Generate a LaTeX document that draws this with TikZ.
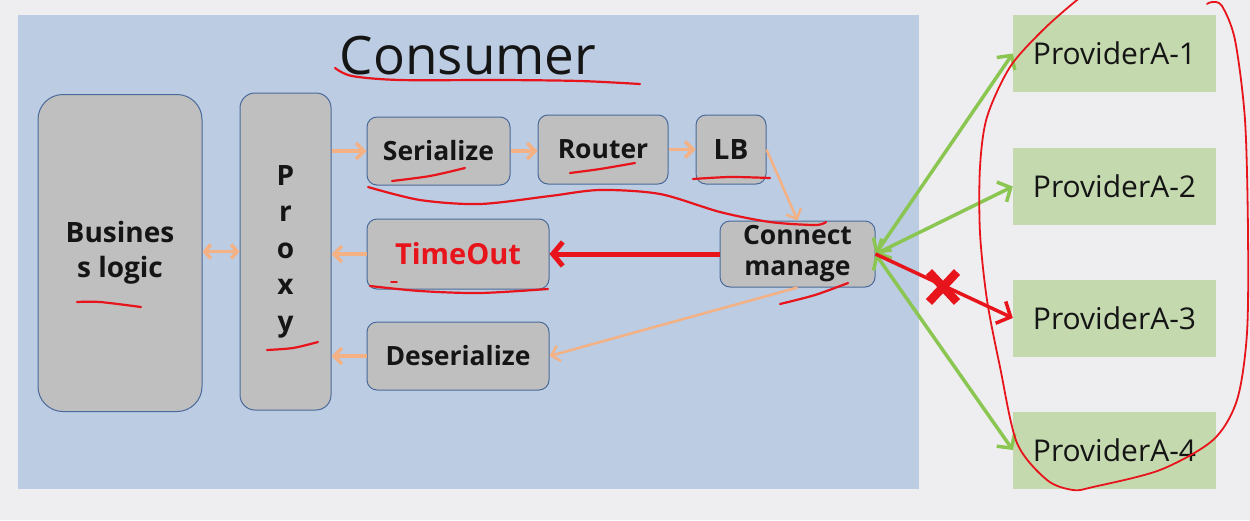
\documentclass[tikz,border=0pt]{standalone}
\usepackage{fontspec}
\setmainfont{Open Sans}
\usetikzlibrary{arrows.meta}
\definecolor{bg}{HTML}{EEEEF0}
\definecolor{panel}{HTML}{BBCCE3}
\definecolor{boxfill}{HTML}{BFBFBF}
\definecolor{boxline}{HTML}{4A6A9A}
\definecolor{prov}{HTML}{C5D9AF}
\definecolor{peach}{HTML}{F4B183}
\definecolor{grn}{HTML}{8CC652}
\definecolor{redA}{HTML}{E8141C}
\definecolor{ink}{HTML}{151515}
\tikzset{
  blk/.style={draw=boxline, line width=1pt, fill=boxfill, rounded corners=10pt, inner sep=0pt,
    font=\bfseries\fontsize{26.5}{31}\selectfont, text=ink, align=center},
  provbox/.style={fill=prov, inner sep=0pt, minimum width=203pt, minimum height=77pt,
    font=\fontsize{30}{34}\selectfont, text=ink},
  pa/.style={draw=peach, line width=3.5pt, -{Straight Barb[length=8pt,width=16pt]}},
  pab/.style={draw=peach, line width=3.5pt, {Straight Barb[length=6pt,width=14pt]}-{Straight Barb[length=6pt,width=14pt]}},
  ga/.style={draw=grn, line width=3.5pt, {Straight Barb[length=10pt,width=22pt]}-{Straight Barb[length=10pt,width=22pt]}},
  ra/.style={draw=redA, line width=3.5pt, -{Straight Barb[length=11pt,width=24pt]}},
  ann/.style={draw=redA, line width=2.2pt, line cap=round, line join=round}
}
\begin{document}
\begin{tikzpicture}[x=1pt,y=-1pt]
\fill[bg] (0,0) rectangle (1250,520);
\useasboundingbox (0,0) rectangle (1250,520);
\fill[panel] (18,15) rectangle (919,489);

\node[font=\fontsize{53}{60}\selectfont, text=ink, anchor=base] (cons) at (468,74) {Consumer};

\node[blk, rounded corners=25pt, minimum width=164pt, minimum height=317pt, font=\bfseries\fontsize{28}{35}\selectfont] (biz) at (120,253) {Busines\\s logic};
\node[blk, rounded corners=15pt, minimum width=91pt, minimum height=317pt, font=\bfseries\fontsize{28}{36.5}\selectfont] (proxy) at (285.5,251.5) {P\\r\\o\\x\\y};
\node[blk, minimum width=143pt, minimum height=68pt] (ser) at (438.5,151) {Serialize};
\node[blk, minimum width=130pt, minimum height=69pt] (rout) at (603,149.5) {Router};
\node[blk, minimum width=70pt, minimum height=69pt, font=\bfseries\fontsize{28}{30}\selectfont] (lb) at (731,149.5) {LB};
\node[blk, minimum width=182pt, minimum height=70pt, text=redA, font=\bfseries\fontsize{29}{30}\selectfont] (to) at (458,254) {TimeOut};
\node[blk, minimum width=182pt, minimum height=68pt] (des) at (458,356) {Deserialize};
\node[blk, minimum width=155pt, minimum height=66pt] (cm) at (797.5,254) {Connect\\manage};

\node[provbox] (p1) at (1114.5,53.5) {ProviderA-1};
\node[provbox] (p2) at (1114.5,186.5) {ProviderA-2};
\node[provbox] (p3) at (1114.5,318) {ProviderA-3};
\node[provbox] (p4) at (1114.5,450) {ProviderA-4};

% peach flow arrows
\draw[pab] (biz.east |- proxy.west) -- (proxy.west);
\draw[pa] (proxy.east |- ser.west) -- (ser.west);
\draw[pa] (ser.east) -- (ser.east -| rout.west);
\draw[pa] (rout.east) -- (rout.east -| lb.west);
\draw[pa, line width=2.5pt] (lb.east) -- (cm.north);
\draw[pa] (to.west) -- (to.west -| proxy.east);
\draw[pa] (des.west) -- (des.west -| proxy.east);
\draw[pa, line width=2.5pt] (cm.south) -- (des.east);

% red timeout arrow
\draw[draw=redA, line width=5pt, -{Straight Barb[length=10pt,width=24pt]}] (cm.west |- to.east) -- (to.east);

% provider arrows
\draw[ga] (cm.east) -- (p1.west);
\draw[ga] (cm.east) -- (p2.west);
\draw[ga] (cm.east) -- (p4.west);
\draw[ra] (cm.east) -- (p3.west);
\coordinate (xm) at (943,287);
\draw[redA, line width=8.5pt] ([shift={(-14,-15)}]xm) -- ([shift={(14,15)}]xm)
  ([shift={(14,-15)}]xm) -- ([shift={(-14,15)}]xm);

% hand-drawn annotations
\draw[ann] plot[smooth] coordinates {(335,68) (352,76) (400,80) (500,80) (580,81) (640,84)};
\draw[ann] plot[smooth] coordinates {(392,181) (430,176) (465,168)};
\draw[ann] plot[smooth] coordinates {(570,173) (600,169) (635,163)};
\draw[ann] plot[smooth] coordinates {(693,179) (730,177) (770,178)};
\draw[ann] plot[smooth] coordinates {(368,187) (420,200) (480,204) (550,196) (600,190) (660,194) (720,212) (770,222) (815,225) (826,222)};
\draw[ann] plot[smooth] coordinates {(370,286) (420,291) (480,293) (548,289)};
\draw[ann, line width=1.5pt] (391,282) -- (397,282);
\draw[ann] plot[smooth] coordinates {(780,304) (815,295) (848,283)};
\draw[ann] plot[smooth] coordinates {(77,302) (100,302) (141,307)};
\draw[ann] plot[smooth] coordinates {(267,350) (293,348) (318,342)};
\begin{scope}
\clip (0,0) rectangle (1250,520);
\draw[ann, line width=1.8pt] plot[smooth] coordinates {(1095,-12) (1077,0) (1043,30) (1010,67) (987,117) (980,167) (980,233) (987,300) (1000,367) (1017,443) (1047,480) (1073,490) (1093,487) (1160,470) (1213,440) (1237,400) (1247,333) (1248,233) (1245,120) (1235,40) (1222,6) (1212,2) (1207,4)};
\end{scope}
\end{tikzpicture}
\end{document}
